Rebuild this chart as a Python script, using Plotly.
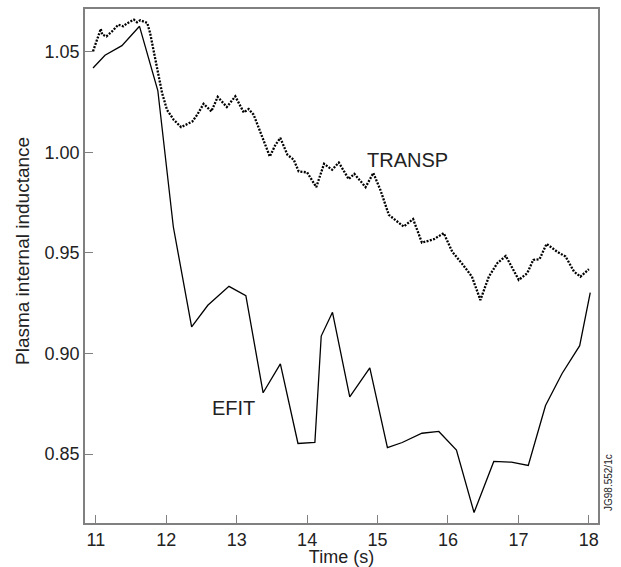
import plotly.graph_objects as go

# EFIT (solid)
efit_t = [10.96, 11.13, 11.37, 11.62, 11.88, 12.10, 12.36, 12.59, 12.89, 13.13,
          13.375, 13.62, 13.87, 14.11, 14.20, 14.36, 14.605, 14.89, 15.14, 15.35,
          15.63, 15.87, 16.12, 16.37, 16.65, 16.90, 17.14, 17.385, 17.62, 17.87, 18.02]
efit_li = [1.0419, 1.0482, 1.0530, 1.0626, 1.0307, 0.9630, 0.9132, 0.9240, 0.9334, 0.9288,
           0.8805, 0.8949, 0.8553, 0.8558, 0.9087, 0.9205, 0.8785, 0.8929, 0.8533, 0.8558,
           0.8604, 0.8613, 0.8520, 0.8210, 0.8464, 0.8460, 0.8444, 0.8742, 0.8901, 0.9039, 0.9303]

# TRANSP (dotted)
transp_t = [10.96, 11.017, 11.07, 11.09, 11.15, 11.23, 11.32, 11.39, 11.44, 11.54,
            11.585, 11.63, 11.73, 11.77, 11.83, 11.89, 11.94, 12.01, 12.105, 12.21,
            12.37, 12.44, 12.53, 12.64, 12.73, 12.86, 12.98, 13.10, 13.17, 13.24,
            13.36, 13.47, 13.55, 13.62, 13.72, 13.81, 13.88, 14.0, 14.13, 14.24,
            14.355, 14.45, 14.59, 14.67, 14.83, 14.94, 15.04, 15.16, 15.37, 15.505,
            15.63, 15.80, 15.94, 16.06, 16.215, 16.34, 16.46, 16.58, 16.70, 16.82,
            17.005, 17.125, 17.21, 17.30, 17.40, 17.55, 17.67, 17.79, 17.88, 18.0]
transp_li = [1.0502, 1.0560, 1.0613, 1.0585, 1.0576, 1.0601, 1.0634, 1.0626, 1.0640, 1.0659,
             1.0646, 1.0656, 1.0643, 1.0593, 1.0494, 1.0394, 1.0295, 1.0211, 1.0162, 1.0125,
             1.0153, 1.0187, 1.0241, 1.0203, 1.0275, 1.0225, 1.0278, 1.0198, 1.0215, 1.0187,
             1.0079, 0.9979, 1.0037, 1.0071, 0.9988, 0.9963, 0.9905, 0.9900, 0.9827, 0.9943,
             0.9913, 0.9949, 0.9867, 0.9893, 0.9827, 0.9897, 0.9813, 0.9689, 0.9631, 0.9668,
             0.9551, 0.9568, 0.9598, 0.9506, 0.9440, 0.9382, 0.9266, 0.9382, 0.9449, 0.9485,
             0.9366, 0.9399, 0.9465, 0.9469, 0.9545, 0.9506, 0.9482, 0.9407, 0.9382, 0.9419]

x_ticks = [11, 12, 13, 14, 15, 16, 17, 18]
y_ticks = [0.85, 0.90, 0.95, 1.00, 1.05]
y_tick_text = ["0.85", "0.90", "0.95", "1.00", "1.05"]

FONT = "Liberation Sans, Arial, sans-serif"
TXT = "#222"

fig = go.Figure()
fig.add_trace(go.Scatter(x=transp_t, y=transp_li, mode="lines",
                         line=dict(color="black", width=2.3, dash="2px,1.4px"),
                         showlegend=False))
fig.add_trace(go.Scatter(x=efit_t, y=efit_li, mode="lines",
                         line=dict(color="black", width=1.3),
                         showlegend=False))

fig.add_annotation(x=15.43, y=0.9963, text="TRANSP", showarrow=False,
                   font=dict(family=FONT, size=20, color=TXT))
fig.add_annotation(x=12.953, y=0.8731, text="EFIT", showarrow=False,
                   font=dict(family=FONT, size=20, color=TXT))
fig.add_annotation(xref="paper", yref="paper", x=1.0, y=0.0, xanchor="left", yanchor="bottom",
                   xshift=3, yshift=10, text="JG98.552/1c", textangle=-90, showarrow=False,
                   font=dict(family=FONT, size=10, color=TXT))
# y-axis title
fig.add_annotation(xref="paper", yref="y", x=0, y=0.9507, xanchor="right", yanchor="middle",
                   xshift=-50, text="Plasma internal inductance", textangle=-90, showarrow=False,
                   font=dict(family=FONT, size=19, color=TXT))

axis_common = dict(showline=True, linecolor="#808080", linewidth=1.5, mirror=True,
                   ticks="inside", ticklen=8, tickcolor="#808080", tickwidth=1.2,
                   showgrid=False, zeroline=False, automargin=False,
                   tickfont=dict(family=FONT, size=18, color=TXT))

fig.update_xaxes(range=[10.846, 18.13], tickvals=x_ticks,
                 title=dict(text="Time (s)", font=dict(family=FONT, size=18, color=TXT)),
                 **axis_common)
fig.update_yaxes(range=[0.8158, 1.0712], tickvals=y_ticks, ticktext=y_tick_text,
                 **axis_common)

fig.update_layout(width=621, height=567, plot_bgcolor="white", paper_bgcolor="white",
                  margin=dict(l=85, r=23, t=9, b=44))

fig.write_html("out.html", config={"displayModeBar": False},
               post_script="document.body.style.margin='0';document.body.style.padding='0';")
